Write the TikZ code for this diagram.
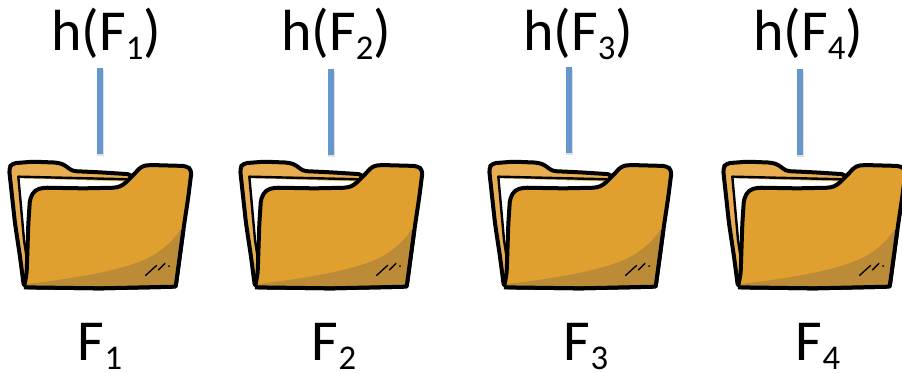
\documentclass[tikz,border=0pt]{standalone}
\usepackage{fontspec}
\setmainfont{Carlito}
\newcommand{\sbs}[1]{\raisebox{-7pt}[0pt][0pt]{\fontsize{26pt}{26pt}\selectfont #1}}
\tikzset{
  px/.style={x=.75pt,y=-.75pt},
  ink/.style={draw=black,line width=3pt,line join=round,rounded corners=3pt},
  lbl/.style={font=\fontsize{43.5pt}{43.5pt}\selectfont,inner sep=0pt,outer sep=0pt,text=black},
  hashlbl/.style={lbl,anchor=south,text depth=13.5pt},
  filelbl/.style={lbl,anchor=base},
  bar/.style={draw=barblue,line width=4.6pt,preaction={draw=black,draw opacity=.12,line width=5.4pt,transform canvas={shift={(.6pt,-1.2pt)}}}},
  foldbox/.style={minimum width=137pt,minimum height=93pt,inner sep=0pt,outer sep=0pt,anchor=north west},
  pics/folder/.style={code={
    \begin{scope}[x=.25pt,y=-.25pt]
      % back panel
      \path[ink,fill=foldback] (27,85) -- (36,70) -- (100,65) -- (175,68) -- (195,75) -- (215,93) -- (300,97) -- (395,103) -- (400,150) -- (120,150) -- (85,380) -- (72,442) -- (60,350) -- (45,250) -- cycle;
      % paper
      \path[fill=white] (58,115) -- (370,124) -- (350,150) -- (120,150) -- (92,200) -- (82,365) -- (72,300) -- cycle;
      \draw[line width=1.8pt,line join=round] (82,365) -- (72,300) -- (55,110) -- (392,118);
      % front panel
      \path[ink,fill=foldfront] (72,442) -- (80,400) -- (85,250) -- (90,175) -- (105,150) -- (130,143) -- (250,145) -- (350,143) -- (370,135) -- (400,105) -- (425,78) -- (450,75) -- (560,78) -- (575,90) -- (565,170) -- (550,270) -- (527,440) -- (300,445) -- cycle;
      % shade
      \path[fill=foldshade] (80,432) .. controls (250,412) and (400,385) .. (470,340) .. controls (505,315) and (530,290) .. (545,262) -- (525,437) -- (80,438) -- cycle;
      \draw[line width=3pt,line join=round] (72,442) -- (300,445) -- (527,440) -- (550,270);
      % scratches
      \draw[line width=1pt,line cap=round] (437,406) -- (470,376);
      \draw[line width=1pt,line cap=round] (475,390) -- (495,370);
      \fill (507,378) circle (3);
    \end{scope}
  }}
}
\definecolor{barblue}{HTML}{6597CC}
\definecolor{foldback}{HTML}{E9AE52}
\definecolor{foldfront}{HTML}{E0A02F}
\definecolor{foldshade}{HTML}{BC8B37}
\begin{document}
\begin{tikzpicture}[px]
  \useasboundingbox (0,0) rectangle (902,372);
  \clip (0,0) rectangle (902,372);
  \foreach \n/\fx/\hx/\lx/\bx/\by in {1/0/106/100/100/68, 2/231/336/334/331/69, 3/480/578/586/569/67, 4/714/808/818/800/69}{
    \pic at (\fx,140) {folder};
    \node[foldbox] (f\n) at (\fx+9,163) {};
    \node[hashlbl] (h\n) at (\hx,68) {h(F\sbs{\n})};
    \node[filelbl] (n\n) at (\lx,360) {F\sbs{\n}};
    \coordinate (b\n) at (\bx,\by);
    \coordinate (c\n) at (\bx,\by+86);
    \draw[bar] (b\n) -- (c\n);
  }
\end{tikzpicture}
\end{document}
